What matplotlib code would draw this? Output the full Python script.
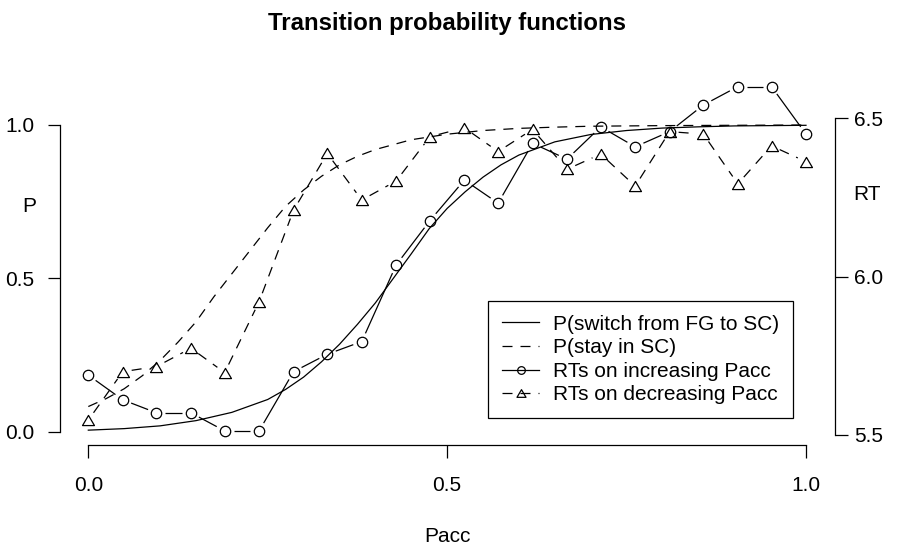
import matplotlib
matplotlib.use('Agg')
import matplotlib.pyplot as plt
import numpy as np
from matplotlib.collections import LineCollection
from matplotlib.lines import Line2D
from matplotlib.path import Path

plt.rcParams['font.family'] = ['Liberation Sans', 'DejaVu Sans']

W, H = 897, 547

# Pacc levels where RTs were measured
pacc = [0.0, 0.048, 0.095, 0.143, 0.190, 0.238, 0.286, 0.333, 0.381, 0.429, 0.476,
        0.524, 0.571, 0.619, 0.667, 0.714, 0.762, 0.810, 0.857, 0.905, 0.952, 1.0]
rt_increasing = [5.689, 5.611, 5.570, 5.570, 5.513, 5.513, 5.700, 5.755, 5.795, 6.037, 6.177,
                 6.305, 6.232, 6.421, 6.371, 6.473, 6.410, 6.458, 6.542, 6.600, 6.600, 6.450]
rt_decreasing = [5.547, 5.700, 5.716, 5.774, 5.697, 5.921, 6.210, 6.389, 6.242, 6.302, 6.442,
                 6.470, 6.395, 6.465, 6.339, 6.387, 6.286, 6.458, 6.450, 6.293, 6.413, 6.363]

# transition probability curves
switch_x = [0.0, 0.05, 0.10, 0.15, 0.20, 0.25, 0.275, 0.30, 0.325, 0.35, 0.375, 0.40, 0.425,
            0.45, 0.475, 0.50, 0.525, 0.55, 0.575, 0.60, 0.65, 0.70, 0.75, 0.80, 0.85, 0.90,
            0.95, 1.0]
switch_p = [0.005, 0.010, 0.019, 0.036, 0.063, 0.105, 0.138, 0.178, 0.228, 0.285, 0.350, 0.420,
            0.500, 0.580, 0.662, 0.728, 0.782, 0.830, 0.870, 0.902, 0.945, 0.969, 0.982, 0.990,
            0.994, 0.997, 0.998, 0.999]
stay_x = [0.0, 0.025, 0.05, 0.075, 0.10, 0.125, 0.15, 0.175, 0.20, 0.225, 0.25, 0.275, 0.30,
          0.325, 0.35, 0.375, 0.40, 0.45, 0.50, 0.55, 0.60, 0.65, 0.70, 0.80, 0.90, 1.0]
stay_p = [0.082, 0.108, 0.140, 0.182, 0.232, 0.292, 0.358, 0.440, 0.515, 0.590, 0.665, 0.735,
          0.788, 0.833, 0.870, 0.898, 0.920, 0.952, 0.970, 0.982, 0.989, 0.993, 0.996, 0.998,
          0.999, 1.0]

tick_vals = [0.0, 0.5, 1.0]
tick_labels = ['0.0', '0.5', '1.0']
rt_ticks = [5.5, 6.0, 6.5]
rt_labels = ['5.5', '6.0', '6.5']
legend_labels = ['P(switch from FG to SC)', 'P(stay in SC)',
                 'RTs on increasing Pacc', 'RTs on decreasing Pacc']

LW = 0.9
DASH = (0, (8, 6.4))
FS = 15
TRI = Path([(0, 0.85), (-1, -0.85), (1, -0.85), (0, 0)], closed=True)


def gapped_segments(axis, xs, ys, gap_px):
    # R type="b": segments stop short of the points
    pts = axis.transData.transform(np.column_stack([xs, ys]))
    inv = axis.transData.inverted()
    segs = []
    for p0, p1 in zip(pts[:-1], pts[1:]):
        d = p1 - p0
        n = np.hypot(*d)
        if n <= 2 * gap_px:
            continue
        u = d / n
        segs.append(inv.transform([p0 + u * gap_px, p1 - u * gap_px]))
    return segs


fig = plt.figure(figsize=(W / 100, H / 100), dpi=100)
ax = fig.add_axes([59.6 / W, 1 - 445 / H, (834.7 - 59.6) / W, (445 - 112.7) / H])
ax.set_xlim(-0.04, 1.04)
ax.set_ylim(-0.0434, 1.0401)
ax2 = ax.twinx()
ax2.set_ylim(5.4684, 6.5177)

ax.plot(switch_x, switch_p, color='k', lw=LW)
ax.plot(stay_x, stay_p, color='k', lw=LW, ls=DASH)

lc1 = LineCollection(gapped_segments(ax2, pacc, rt_increasing, 9), colors='k',
                     linewidths=LW, clip_on=False)
ax2.add_collection(lc1)
ax2.plot(pacc, rt_increasing, ls='none', marker='o', ms=7.5, mfc='none', mec='k',
         mew=LW, clip_on=False)
lc2 = LineCollection(gapped_segments(ax2, pacc, rt_decreasing, 9), colors='k',
                     linewidths=LW, linestyles=[DASH], clip_on=False)
ax2.add_collection(lc2)
ax2.plot(pacc, rt_decreasing, ls='none', marker=TRI, ms=8.6, mfc='none', mec='k',
         mew=LW, clip_on=False)

for a in (ax, ax2):
    for s in a.spines.values():
        s.set_linewidth(LW)
    a.spines['top'].set_visible(False)
ax.spines['right'].set_visible(False)
ax.spines['left'].set_bounds(0, 1)
ax.spines['bottom'].set_bounds(0, 1)
ax2.spines['left'].set_visible(False)
ax2.spines['bottom'].set_visible(False)
ax2.spines['right'].set_bounds(5.5, 6.5)

ax.set_xticks(tick_vals, tick_labels)
ax.set_yticks(tick_vals, tick_labels)
ax2.set_yticks(rt_ticks, rt_labels)
ax.tick_params(direction='out', length=9, width=LW, labelsize=FS)
ax.tick_params(axis='y', pad=9)
ax.tick_params(axis='x', pad=13.5)
ax2.tick_params(direction='out', length=9, width=LW, labelsize=FS, pad=5)

fig.text(29 / W, 1 - 211.7 / H, 'P', ha='center', va='baseline', fontsize=FS)
fig.text(866.5 / W, 1 - 200 / H, 'RT', ha='center', va='baseline', fontsize=FS)
fig.text(447.5 / W, 1 - 541.7 / H, 'Pacc', ha='center', va='baseline', fontsize=FS)
fig.text(446.7 / W, 1 - 30 / H, 'Transition probability functions', ha='center',
         va='baseline', fontsize=17.3, fontweight='bold')

handles = [
    Line2D([], [], color='k', lw=LW),
    Line2D([], [], color='k', lw=LW, ls=DASH),
    Line2D([], [], color='k', lw=LW, marker='o', ms=5.5, mfc='none', mew=LW),
    Line2D([], [], color='k', lw=LW, ls=DASH, marker=TRI, ms=6.5, mfc='none', mew=LW),
]
leg = ax2.legend(handles, legend_labels, loc='upper left',
                 bbox_to_anchor=(488 / W, 1 - 300.7 / H), bbox_transform=fig.transFigure,
                 frameon=True, fancybox=False, edgecolor='k', framealpha=1, fontsize=FS,
                 handlelength=1.8, handletextpad=0.63, borderpad=0.67, labelspacing=0.22,
                 borderaxespad=0)
leg.get_frame().set_linewidth(LW)

fig.savefig('out.png', dpi=100)
